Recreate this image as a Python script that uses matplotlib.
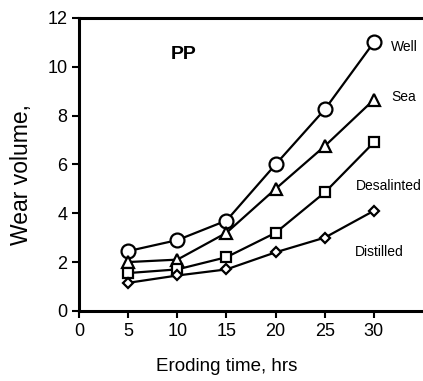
import matplotlib
matplotlib.use("Agg")
import matplotlib.pyplot as plt

plt.rcParams['font.family'] = ['Liberation Sans', 'DejaVu Sans']

hours = [5, 10, 15, 20, 25, 30]
well = [2.45, 2.9, 3.7, 6.0, 8.25, 11.0]
sea = [2.0, 2.1, 3.2, 5.0, 6.75, 8.65]
desalinted = [1.55, 1.7, 2.2, 3.2, 4.85, 6.9]
distilled = [1.15, 1.45, 1.7, 2.4, 3.0, 4.1]

fig = plt.figure(figsize=(4.23, 3.81), dpi=100)
ax = fig.add_axes([0.187, 0.184, 0.813, 0.769])

style = dict(color='black', lw=1.6, markerfacecolor='white', markeredgecolor='black', markeredgewidth=1.6)
ax.plot(hours, well, marker='o', markersize=10, **style)
ax.plot(hours, sea, marker='^', markersize=8, **style)
ax.plot(hours, desalinted, marker='s', markersize=7.5, **style)
ax.plot(hours, distilled, marker='D', markersize=5.5, **style)

ax.text(31.7, 10.8, 'Well', fontsize=10, va='center')
ax.text(31.8, 8.75, 'Sea', fontsize=10, va='center')
ax.text(28.2, 5.1, 'Desalinted', fontsize=10, va='center')
ax.text(28.1, 2.42, 'Distilled', fontsize=10, va='center')
ax.text(10.6, 10.5, 'PP', fontsize=14, fontweight='bold', va='center', ha='center')

ax.set_xlim(0, 35)
ax.set_ylim(0, 12)
ax.set_xticks([0, 5, 10, 15, 20, 25, 30])
ax.set_yticks([0, 2, 4, 6, 8, 10, 12])
ax.tick_params(labelsize=13, width=1.5, length=5, direction='out')
ax.spines['right'].set_visible(False)
for s in ['left', 'bottom', 'top']:
    ax.spines[s].set_linewidth(2.2)

ax.set_xlabel('Eroding time, hrs', fontsize=13.5)
ax.xaxis.set_label_coords(0.43, -0.16)
ax.set_ylabel('Wear volume,', fontsize=16.5)
ax.yaxis.set_label_coords(-0.135, 0.465)

fig.savefig('out.png', dpi=100)
